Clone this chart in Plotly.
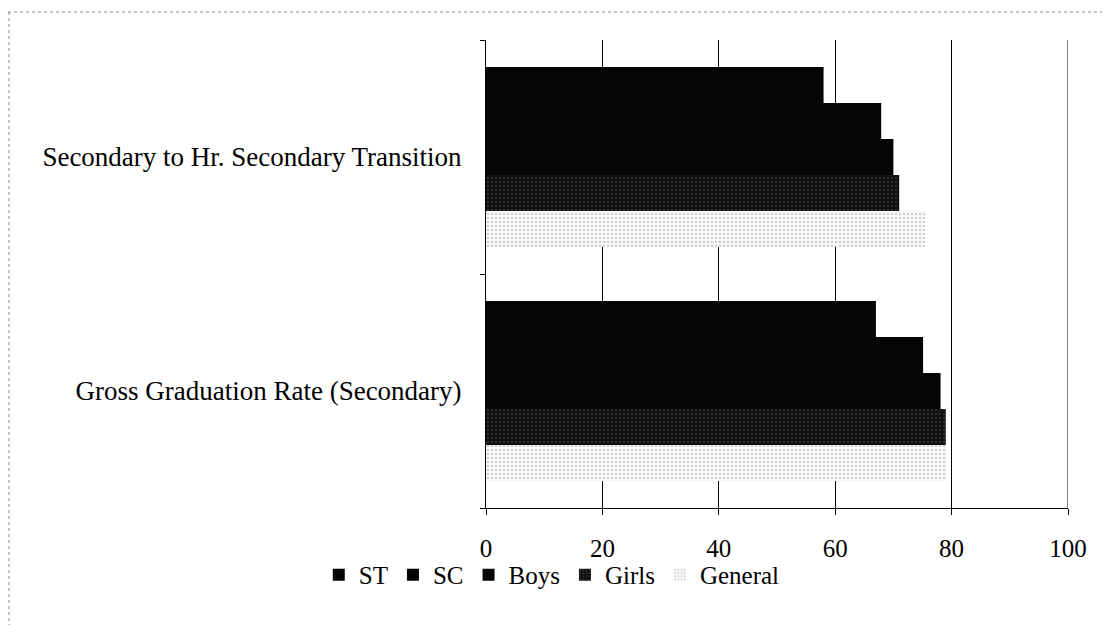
import plotly.graph_objects as go

# categories bottom -> top (plotly puts the first category at the bottom)
categories = ["Gross Graduation Rate (Secondary)", "Secondary to Hr. Secondary Transition"]

st = [67.0, 58.0]
sc = [75.1, 67.9]
boys = [78.1, 70.0]
girls = [79.0, 71.0]
general = [79.1, 75.5]

FONT = "Liberation Serif"

# page has an 8px body margin, so the figure is drawn 16px smaller
W, H = 1094, 617
L, R, T, B = 478, 34, 32, 117
PW, PH = W - L - R, H - T - B

fig = go.Figure()
# added in reverse so ST ends up on top inside each group
fig.add_trace(go.Bar(
    y=categories, x=general, name="General", orientation="h",
    marker=dict(color="#f4f4f4", line=dict(width=0),
                pattern=dict(shape=".", fgcolor="#8a8a8a", bgcolor="#f7f7f7",
                             size=4, solidity=0.2)),
))
fig.add_trace(go.Bar(
    y=categories, x=girls, name="Girls", orientation="h",
    marker=dict(color="#111111", line=dict(width=0),
                pattern=dict(shape=".", fgcolor="#5f5f5f", bgcolor="#111111",
                             size=4, solidity=0.2)),
))
fig.add_trace(go.Bar(
    y=categories, x=boys, name="Boys", orientation="h",
    marker=dict(color="#050505", line=dict(width=0)),
))
fig.add_trace(go.Bar(
    y=categories, x=sc, name="SC", orientation="h",
    marker=dict(color="#050505", line=dict(width=0)),
))
fig.add_trace(go.Bar(
    y=categories, x=st, name="ST", orientation="h",
    marker=dict(color="#050505", line=dict(width=0)),
))

fig.update_layout(
    width=W,
    height=H,
    barmode="group",
    bargap=0.23,
    bargroupgap=0,
    plot_bgcolor="white",
    paper_bgcolor="white",
    font=dict(family=FONT, size=25, color="black"),
    margin=dict(l=L, r=R, t=T, b=B),
    showlegend=True,
    legend=dict(
        orientation="h", traceorder="reversed",
        x=0.113, xanchor="center", y=-0.094, yanchor="top",
        bgcolor="rgba(0,0,0,0)",
        font=dict(family=FONT, size=25, color="black"),
        itemwidth=30, tracegroupgap=0,
    ),
    xaxis=dict(
        range=[0, 100], dtick=20, tick0=0,
        showgrid=True, gridcolor="black", gridwidth=1,
        showline=True, linecolor="black", linewidth=1,
        zeroline=False,
        ticks="outside", ticklen=6, tickcolor="black",
        ticklabelstandoff=12,
        tickfont=dict(size=25),
    ),
    yaxis=dict(
        showline=True, linecolor="black", linewidth=1,
        ticks="outside", ticklen=5, tickcolor="black",
        tickson="boundaries",
        showgrid=False,
        ticklabelstandoff=18,
        tickfont=dict(size=27),
    ),
)

# gridline at the right edge (x = 100)
fig.add_shape(type="line", xref="x", yref="paper", x0=100, x1=100, y0=0, y1=1,
              line=dict(color="black", width=1))

# scanned page frame (top and left edges)
top_y = (H - B - 4) / PH
left_x = -L / PW
fig.add_shape(type="line", xref="paper", yref="paper",
              x0=left_x, x1=(W - L) / PW, y0=top_y, y1=top_y,
              line=dict(color="#8a8a8a", width=1, dash="dot"))
fig.add_shape(type="line", xref="paper", yref="paper",
              x0=left_x + 1 / PW, x1=left_x + 1 / PW, y0=top_y, y1=-B / PH,
              line=dict(color="#8a8a8a", width=1, dash="dot"))

fig.write_html("out.html")
